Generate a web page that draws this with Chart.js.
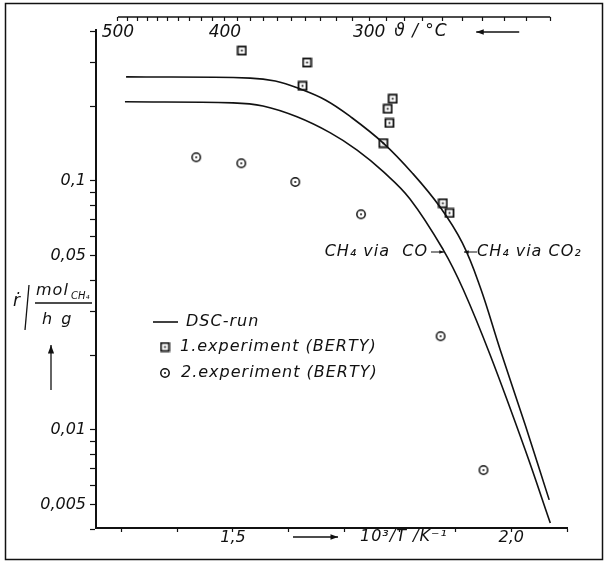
<!DOCTYPE html>
<html>
<head>
<meta charset="utf-8">
<script src="https://cdn.jsdelivr.net/npm/chart.js@4.4.1/dist/chart.umd.min.js"></script>
<style>
    html, body { margin: 0; padding: 0; background: #fff; }
    #wrap { width: 607px; height: 564px; }
</style>
</head>
<body>
<div id="wrap"><canvas id="arrhenius"></canvas></div>
<script>
// x = 10^3/T in 1/K, r = mol CH4 / (h g)
const expOneX = [1.516, 1.633, 1.625, 1.787, 1.778, 1.781, 1.770, 1.877, 1.889]
const expOneR = [0.334, 0.299, 0.241, 0.214, 0.195, 0.171, 0.142, 0.0814, 0.0744]

const expTwoX = [1.434, 1.515, 1.612, 1.730, 1.873, 1.950]
const expTwoR = [0.1245, 0.1178, 0.0991, 0.0735, 0.0238, 0.0069]

// DSC run, CH4 via CO2 (upper curve)
const viaCO2X = [1.308, 1.531, 1.576, 1.621, 1.666, 1.710, 1.770, 1.822, 1.872, 1.912, 1.944, 1.980, 2.025, 2.068]
const viaCO2R = [0.262, 0.259, 0.252, 0.234, 0.2115, 0.182, 0.142, 0.1077, 0.0786, 0.0564, 0.0375, 0.0210, 0.01047, 0.00524]

// DSC run, CH4 via CO (lower curve)
const viaCOX = [1.306, 1.500, 1.554, 1.615, 1.675, 1.723, 1.770, 1.818, 1.878, 1.914, 1.962, 2.025, 2.070]
const viaCOR = [0.208, 0.206, 0.200, 0.181, 0.156, 0.133, 0.109, 0.0847, 0.0528, 0.0365, 0.0200, 0.00831, 0.00423]

const yTicks = [0.004, 0.005, 0.006, 0.007, 0.008, 0.009, 0.01, 0.02, 0.03, 0.04, 0.05, 0.06, 0.07, 0.08, 0.09, 0.1, 0.2, 0.3, 0.4]
const yLabelled = [0.005, 0.01, 0.05, 0.1]
const xTicks = [1.3, 1.4, 1.5, 1.6, 1.7, 1.8, 1.9, 2.0, 2.1]
const xLabelled = [1.5, 2.0]
const tempTicks = [500, 490, 480, 470, 460, 450, 440, 430, 420, 410, 400, 390, 380, 370, 360, 350, 340, 330, 320, 310, 300, 290, 280, 270, 260, 250, 240, 230, 220, 210]
const tempLabelled = [500, 400, 300]

const X_MIN = 1.254
const X_MAX = 2.10
const Y_MIN = 0.00404
const Y_MAX = 0.404
const TOP_AXIS_AT = 0.4557   // r value where the temperature axis sits, above the plot
const INK = '#111'
const FONT = '"DejaVu Sans", sans-serif'

function pairs(xs, ys) {
    return xs.map((x, i) => ({ x: x, y: ys[i] }))
}

function squareMarker() {
    const c = document.createElement('canvas')
    c.width = 11; c.height = 11
    const g = c.getContext('2d')
    g.strokeStyle = INK
    g.lineWidth = 1.8
    g.strokeRect(1.5, 1.5, 8, 8)
    g.fillStyle = INK
    g.fillRect(4.6, 4.6, 1.8, 1.8)
    return c
}

function circleMarker() {
    const c = document.createElement('canvas')
    c.width = 12; c.height = 12
    const g = c.getContext('2d')
    g.strokeStyle = INK
    g.lineWidth = 1.5
    g.beginPath()
    g.arc(6, 6, 4.2, 0, Math.PI * 2)
    g.stroke()
    g.fillStyle = INK
    g.beginPath()
    g.arc(6, 6, 1, 0, Math.PI * 2)
    g.fill()
    return c
}

const SQUARE = squareMarker()
const CIRCLE = circleMarker()

function arrow(ctx, x1, y1, x2, y2, head) {
    const a = Math.atan2(y2 - y1, x2 - x1)
    ctx.beginPath()
    ctx.moveTo(x1, y1)
    ctx.lineTo(x2, y2)
    ctx.stroke()
    ctx.beginPath()
    ctx.moveTo(x2, y2)
    ctx.lineTo(x2 - head * Math.cos(a - 0.35), y2 - head * Math.sin(a - 0.35))
    ctx.lineTo(x2 - head * Math.cos(a + 0.35), y2 - head * Math.sin(a + 0.35))
    ctx.closePath()
    ctx.fill()
}

const paper = {
    id: 'paper',
    beforeDraw(chart) {
        const ctx = chart.ctx
        ctx.save()
        ctx.fillStyle = '#fff'
        ctx.fillRect(0, 0, chart.width, chart.height)
        ctx.strokeStyle = INK
        ctx.lineWidth = 1.5
        ctx.strokeRect(5.5, 3.5, 597, 556)
        ctx.restore()
    },
    afterDraw(chart) {
        const ctx = chart.ctx
        const x2 = chart.scales.x2
        const topY = chart.scales.y.getPixelForValue(TOP_AXIS_AT)
        ctx.save()
        ctx.strokeStyle = INK
        ctx.fillStyle = INK
        ctx.lineWidth = 1.5

        // temperature axis line
        ctx.beginPath()
        ctx.moveTo(x2.getPixelForValue(x2.ticks[0].value), topY)
        ctx.lineTo(x2.getPixelForValue(x2.ticks[x2.ticks.length - 1].value), topY)
        ctx.stroke()

        ctx.font = 'italic 17px ' + FONT
        ctx.letterSpacing = '1px'
        ctx.textBaseline = 'middle'
        const t300 = x2.getPixelForValue(1000 / (300 + 273.15))
        ctx.fillText('ϑ / °C', t300 + 25, topY + 15)
        ctx.lineWidth = 1.3
        arrow(ctx, t300 + 150, topY + 15, t300 + 107, topY + 15, 8)

        // x axis title
        ctx.font = 'italic 16px ' + FONT
        arrow(ctx, 293, 537, 338, 537, 8)
        ctx.fillText('10³/T /K⁻¹', 360, 537)

        // y axis title
        ctx.font = 'italic 17px ' + FONT
        ctx.fillText('ṙ', 13, 302)
        ctx.beginPath()
        ctx.moveTo(29, 285)
        ctx.lineTo(25, 330)
        ctx.stroke()
        ctx.font = 'italic 16px ' + FONT
        ctx.fillText('mol', 36, 291)
        ctx.font = 'italic 10px ' + FONT
        ctx.letterSpacing = '0px'
        ctx.fillText('CH₄', 71, 296)
        ctx.beginPath()
        ctx.moveTo(35, 303)
        ctx.lineTo(92, 303)
        ctx.stroke()
        ctx.font = 'italic 16px ' + FONT
        ctx.letterSpacing = '2px'
        ctx.fillText('h g', 42, 320)
        arrow(ctx, 51, 390, 51, 345, 9)

        // legend
        ctx.letterSpacing = '1px'
        ctx.font = 'italic 16px ' + FONT
        ctx.lineWidth = 1.6
        ctx.beginPath()
        ctx.moveTo(153, 322)
        ctx.lineTo(178, 322)
        ctx.stroke()
        ctx.fillText('DSC-run', 186, 322)
        ctx.drawImage(SQUARE, 165 - SQUARE.width / 2, 347 - SQUARE.height / 2)
        ctx.fillText('1.experiment (BERTY)', 180, 347)
        ctx.drawImage(CIRCLE, 165 - CIRCLE.width / 2, 373 - CIRCLE.height / 2)
        ctx.fillText('2.experiment (BERTY)', 181, 373)

        // curve labels
        ctx.textAlign = 'right'
        ctx.fillText('CH₄ via  CO', 428, 252)
        ctx.textAlign = 'left'
        ctx.fillText('CH₄ via CO₂', 477, 252)
        ctx.lineWidth = 1
        arrow(ctx, 431, 252, 444, 252, 5)
        arrow(ctx, 477, 252, 464, 252, 5)
        ctx.restore()
    }
}

new Chart(document.getElementById('arrhenius'), {
    type: 'scatter',
    data: {
        datasets: [
            {
                label: 'DSC-run, CH4 via CO2',
                data: pairs(viaCO2X, viaCO2R),
                showLine: true,
                borderColor: INK,
                borderWidth: 1.6,
                pointRadius: 0,
                tension: 0.4
            },
            {
                label: 'DSC-run, CH4 via CO',
                data: pairs(viaCOX, viaCOR),
                showLine: true,
                borderColor: INK,
                borderWidth: 1.6,
                pointRadius: 0,
                tension: 0.4
            },
            {
                label: '1.experiment (BERTY)',
                data: pairs(expOneX, expOneR),
                pointStyle: SQUARE,
                pointRadius: 6
            },
            {
                label: '2.experiment (BERTY)',
                data: pairs(expTwoX, expTwoR),
                pointStyle: CIRCLE,
                pointRadius: 6
            }
        ]
    },
    options: {
        responsive: true,
        maintainAspectRatio: false,
        animation: false,
        layout: { padding: { left: 0, top: 30, right: 40, bottom: 0 } },
        plugins: {
            legend: { display: false },
            tooltip: { enabled: false }
        },
        scales: {
            x: {
                type: 'linear',
                min: X_MIN,
                max: X_MAX,
                afterBuildTicks: (scale) => { scale.ticks = xTicks.map(v => ({ value: v })) },
                afterFit: (scale) => { scale.height = 36 },
                grid: { drawOnChartArea: false, tickLength: 4, tickColor: INK, tickWidth: 1.2 },
                border: { color: INK, width: 2 },
                ticks: {
                    autoSkip: false,
                    maxRotation: 0,
                    padding: -4,
                    color: INK,
                    font: { family: FONT, size: 16, style: 'italic' },
                    callback: (v) => xLabelled.includes(v) ? v.toFixed(1).replace('.', ',') : ''
                }
            },
            x2: {
                type: 'linear',
                min: X_MIN,
                max: X_MAX,
                position: { y: TOP_AXIS_AT },
                afterBuildTicks: (scale) => { scale.ticks = tempTicks.map(t => ({ value: 1000 / (t + 273.15) })) },
                grid: { drawOnChartArea: false, tickLength: 4, tickColor: INK, tickWidth: 1.2 },
                border: { display: false },
                ticks: {
                    autoSkip: false,
                    maxRotation: 0,
                    padding: 1,
                    color: INK,
                    font: { family: FONT, size: 17, style: 'italic' },
                    callback: (v, i) => tempLabelled.includes(tempTicks[i]) ? String(tempTicks[i]) : ''
                }
            },
            y: {
                type: 'logarithmic',
                min: Y_MIN,
                max: Y_MAX,
                afterBuildTicks: (scale) => { scale.ticks = yTicks.map(v => ({ value: v })) },
                afterFit: (scale) => { scale.width = 96 },
                grid: { drawOnChartArea: false, tickLength: 6, tickColor: INK, tickWidth: 1.2 },
                border: { color: INK, width: 2 },
                ticks: {
                    autoSkip: false,
                    padding: 4,
                    color: INK,
                    font: { family: FONT, size: 16, style: 'italic' },
                    callback: (v) => yLabelled.includes(v) ? String(v).replace('.', ',') : ''
                }
            }
        }
    },
    plugins: [paper]
});
</script>
</body>
</html>
